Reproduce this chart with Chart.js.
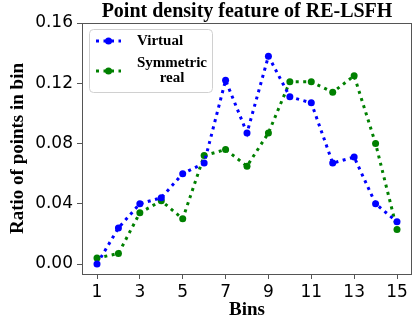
<!DOCTYPE html>
<html>
<head>
<meta charset="utf-8">
<script src="https://cdn.jsdelivr.net/npm/chart.js@4/dist/chart.umd.min.js"></script>
<style>
html, body { margin: 0; padding: 0; background: #fff; }
#wrap { width: 416px; height: 332px; }
</style>
</head>
<body>
<div id="wrap"><canvas id="densityChart" width="416" height="332"></canvas></div>
<script>
// data
const bins = [1, 2, 3, 4, 5, 6, 7, 8, 9, 10, 11, 12, 13, 14, 15];
const virtualRatio = [0.000, 0.024, 0.040, 0.044, 0.060, 0.067, 0.122, 0.087, 0.138, 0.111, 0.107, 0.067, 0.071, 0.040, 0.028];
const symmetricRatio = [0.004, 0.007, 0.034, 0.042, 0.030, 0.072, 0.076, 0.065, 0.087, 0.121, 0.121, 0.114, 0.125, 0.080, 0.023];
const xTicks = [1, 3, 5, 7, 9, 11, 13, 15];
const yTicks = [0, 0.04, 0.08, 0.12, 0.16];
const legendLines = [['Virtual'], ['Symmetric', 'real']];

const serifBold = '"Liberation Serif", "Times New Roman", serif';
const frameColor = '#555';

// plot frame + title
const framePlugin = {
    id: 'frame',
    afterDraw(chart) {
        const { ctx, chartArea: a } = chart;
        ctx.save();
        ctx.strokeStyle = frameColor;
        ctx.lineWidth = 1;
        ctx.strokeRect(a.left + 0.5, a.top + 0.5, a.right - a.left - 1, a.bottom - a.top);
        ctx.fillStyle = '#000';
        ctx.font = 'bold 20px ' + serifBold;
        ctx.textAlign = 'center';
        ctx.textBaseline = 'middle';
        ctx.fillText('Point density feature of RE-LSFH', (a.left + a.right) / 2, 12);
        ctx.restore();
    }
};

// matplotlib-like legend box
const legendPlugin = {
    id: 'boxLegend',
    afterDraw(chart) {
        const ctx = chart.ctx;
        const bx = 89, by = 29, bw = 123, bh = 63;
        ctx.save();
        ctx.beginPath();
        ctx.roundRect(bx + 0.5, by + 0.5, bw, bh, 4);
        ctx.fillStyle = 'rgba(255,255,255,0.85)';
        ctx.fill();
        ctx.strokeStyle = '#d0d0d0';
        ctx.lineWidth = 1;
        ctx.stroke();

        ctx.font = 'bold 15px ' + serifBold;
        ctx.textBaseline = 'middle';
        const rowY = [41, 71];
        chart.data.datasets.forEach((ds, i) => {
            const y = rowY[i];
            ctx.beginPath();
            ctx.setLineDash(ds.borderDash);
            ctx.strokeStyle = ds.borderColor;
            ctx.lineWidth = ds.borderWidth;
            ctx.moveTo(96, y);
            ctx.lineTo(121, y);
            ctx.stroke();
            ctx.setLineDash([]);
            ctx.beginPath();
            ctx.arc(108.5, y, ds.pointRadius, 0, Math.PI * 2);
            ctx.fillStyle = ds.backgroundColor;
            ctx.fill();

            const lines = legendLines[i];
            const widths = lines.map(t => ctx.measureText(t).width);
            const maxW = Math.max(...widths);
            const lh = 15;
            const y0 = y - (lines.length - 1) * lh / 2;
            ctx.fillStyle = '#000';
            ctx.textAlign = 'left';
            lines.forEach((t, k) => {
                ctx.fillText(t, 137 + (maxW - widths[k]) / 2, y0 + k * lh);
            });
        });
        ctx.restore();
    }
};

function initDensityChart() {
    const ctx = document.getElementById('densityChart').getContext('2d');
    new Chart(ctx, {
        type: 'line',
        data: {
            labels: bins,
            datasets: [{
                label: 'Virtual',
                data: bins.map((b, i) => ({ x: b, y: virtualRatio[i] })),
                borderColor: '#0000ff',
                backgroundColor: '#0000ff',
                borderWidth: 3,
                borderDash: [3, 4.5],
                pointRadius: 3.5,
                pointBorderWidth: 0,
                tension: 0
            }, {
                label: 'Symmetric real',
                data: bins.map((b, i) => ({ x: b, y: symmetricRatio[i] })),
                borderColor: '#008000',
                backgroundColor: '#008000',
                borderWidth: 3,
                borderDash: [3, 4.5],
                pointRadius: 3.5,
                pointBorderWidth: 0,
                tension: 0
            }]
        },
        options: {
            responsive: false,
            animation: false,
            layout: { padding: { top: 23, right: 3, left: 0, bottom: 0 } },
            plugins: {
                legend: { display: false },
                title: { display: false },
                tooltip: { enabled: false }
            },
            scales: {
                x: {
                    type: 'linear',
                    min: 0.3,
                    max: 15.7,
                    afterBuildTicks: s => { s.ticks = xTicks.map(v => ({ value: v })); },
                    afterFit: s => { s.height = 58; },
                    border: { display: false },
                    grid: { drawOnChartArea: false, drawTicks: true, tickLength: 5, color: frameColor },
                    ticks: {
                        color: '#000',
                        padding: 3,
                        maxRotation: 0,
                        autoSkip: false,
                        font: { family: '"DejaVu Sans"', size: 17 }
                    },
                    title: {
                        display: true,
                        text: 'Bins',
                        color: '#000',
                        padding: { top: 0, bottom: 11 },
                        font: { family: serifBold, size: 19, weight: 'bold' }
                    }
                },
                y: {
                    min: -0.0066,
                    max: 0.16,
                    afterBuildTicks: s => { s.ticks = yTicks.map(v => ({ value: v })); },
                    afterFit: s => { s.width = 82; },
                    border: { display: false },
                    grid: { drawOnChartArea: false, drawTicks: true, tickLength: 5, color: frameColor },
                    ticks: {
                        color: '#000',
                        padding: 4,
                        autoSkip: false,
                        callback: v => v.toFixed(2),
                        font: { family: '"DejaVu Sans"', size: 17 }
                    },
                    title: {
                        display: true,
                        text: 'Ratio of points in bin',
                        color: '#000',
                        padding: { top: 7, bottom: 0 },
                        font: { family: serifBold, size: 19, weight: 'bold' }
                    }
                }
            }
        },
        plugins: [framePlugin, legendPlugin]
    });
}

document.addEventListener('DOMContentLoaded', () => {
    initDensityChart();
});
</script>
</body>
</html>
